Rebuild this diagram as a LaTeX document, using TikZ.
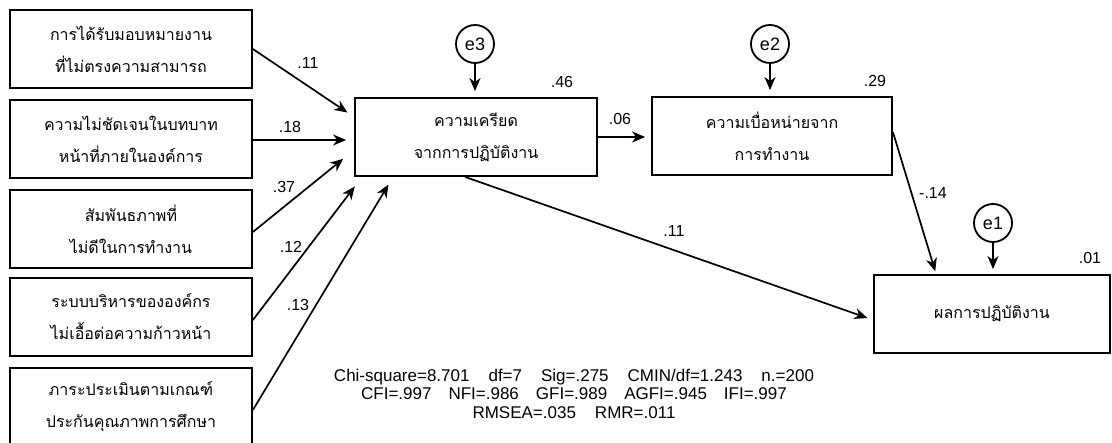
\documentclass[tikz,border=0pt]{standalone}
\usepackage{fontspec}
\setmainfont{Liberation Sans}
\newfontfamily\thaifont[Script=Thai]{Loma}
\usetikzlibrary{arrows.meta,calc}
\begin{document}
\begin{tikzpicture}[x=1pt,y=-1pt,
  box/.style={draw, line width=1.8pt, minimum width=242pt, minimum height=78pt, inner sep=0pt, align=center,
    font=\thaifont\fontsize{16}{32}\selectfont},
  err/.style={draw, circle, line width=1.8pt, minimum size=38pt, inner sep=0pt, font=\fontsize{18}{20}\selectfont},
  arr/.style={line width=1.7pt, -{Stealth[length=13pt,width=11pt,inset=4pt]}},
  lbl/.style={inner sep=0pt, font=\fontsize{16}{18}\selectfont}]
\useasboundingbox (0,0) rectangle (1112,443);
\fill[white] (0,0) rectangle (1112,443);
% exogenous boxes
\node[box] (b1) at (131,49) {การได้รับมอบหมายงาน\\ที่ไม่ตรงความสามารถ};
\node[box] (b2) at (131,139) {ความไม่ชัดเจนในบทบาท\\หน้าที่ภายในองค์การ};
\node[box] (b3) at (131,229) {สัมพันธภาพที่\\ไม่ดีในการทำงาน};
\node[box] (b4) at (131,317) {ระบบบริหารขององค์กร\\ไม่เอื้อต่อความก้าวหน้า};
\node[box] (b5) at (131,407) {ภาระประเมินตามเกณฑ์\\ประกันคุณภาพการศึกษา};
% endogenous boxes
\node[box] (c) at (476,137) {ความเครียด\\จากการปฏิบัติงาน};
\node[box, minimum width=240pt] (d) at (772,136) {ความเบื่อหน่ายจาก\\การทำงาน};
\node[box, minimum width=236pt] (p) at (992,314) {ผลการปฏิบัติงาน};
% error terms
\node[err] (e3) at (475,44) {e3};
\node[err] (e2) at (770,44) {e2};
\node[err] (e1) at (993,223) {e1};
% arrows from exogenous
\draw[arr, shorten >=8pt] (b1.east) -- ($(c.west)+(0,-20)$);
\draw[arr, shorten >=8pt] ($(b2.east)+(0,1)$) -- ($(c.west)+(0,3)$);
\draw[arr, shorten >=14pt] ($(b3.east)+(0,3)$) -- ($(c.west)+(0,13)$);
\draw[arr, shorten >=12pt] ($(b4.east)+(0,3)$) -- ($(c.south west)+(8,0)$);
\draw[arr, shorten >=9pt] ($(b5.east)+(0,3)$) -- ($(c.south west)+(39,0)$);
% error arrows
\draw[arr, shorten >=6pt] (e3.south) -- (e3.south |- c.north);
\draw[arr, shorten >=6pt] (e2.south) -- (e2.south |- d.north);
\draw[arr, shorten >=5pt] (e1.south) -- (e1.south |- p.north);
% structural arrows
\draw[arr, shorten >=6pt] (c.east) -- (c.east -| d.west);
\draw[arr, shorten >=3pt] ($(d.east)+(0,-4)$) -- ($(p.north west)+(63,0)$);
\draw[arr, shorten >=6pt] ($(c.south)+(-11,0)$) -- ($(p.west)+(0,6)$);
% path labels
\node[lbl] (l1) at (308,63) {.11};
\node[lbl] (l2) at (290,127) {.18};
\node[lbl] (l3) at (284,187) {.37};
\node[lbl] (l4) at (291,247) {.12};
\node[lbl] (l5) at (298,305) {.13};
\node[lbl] (r1) at (562,82) {.46};
\node[lbl] (l6) at (620,119) {.06};
\node[lbl] (r2) at (875,81) {.29};
\node[lbl] (l7) at (933,193) {-.14};
\node[lbl] (l8) at (674,231) {.11};
\node[lbl] (r3) at (1090,258) {.01};
% fit statistics
\node[inner sep=0pt, align=center, font=\fontsize{17}{18.5}\selectfont] (fit) at (574,393.5)
 {Chi-square=8.701\hspace{19pt}df=7\hspace{19pt}Sig=.275\hspace{19pt}CMIN/df=1.243\hspace{19pt}n.=200\\
  CFI=.997\hspace{17pt}NFI=.986\hspace{17pt}GFI=.989\hspace{17pt}AGFI=.945\hspace{17pt}IFI=.997\\
  RMSEA=.035\hspace{19pt}RMR=.011};
\end{tikzpicture}
\end{document}
